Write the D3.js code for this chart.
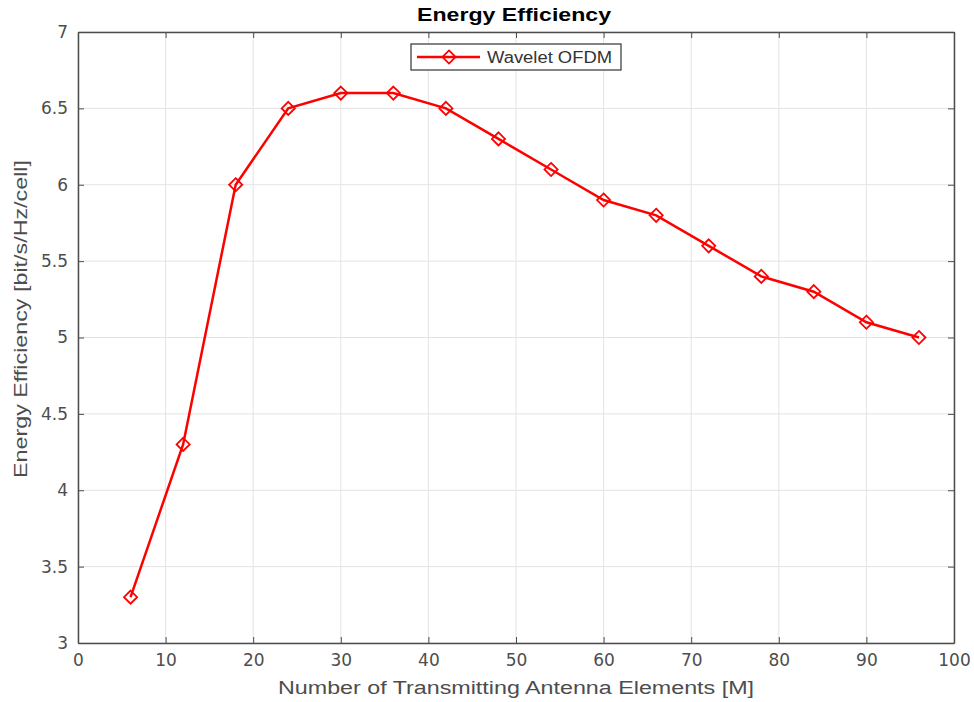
<!DOCTYPE html>
<html>
<head>
<meta charset="utf-8">
<script src="https://cdn.jsdelivr.net/npm/d3@7"></script>
<style>
  body { margin: 0; background: #fff; }
  svg { font-family: "Liberation Sans", Arial, sans-serif; }
  .grid line { stroke: #e3e3e3; stroke-width: 1; }
  .axis text { fill: #4d4d4d; font-size: 17px; font-family: "DejaVu Sans", sans-serif; }
  .axis path, .axis line { stroke: #4d4d4d; }
</style>
</head>
<body>
<div id="chart"></div>
<script>
// data
var antennas = [6, 12, 18, 24, 30, 36, 42, 48, 54, 60, 66, 72, 78, 84, 90, 96];
var efficiency = [3.3, 4.3, 6.0, 6.5, 6.6, 6.6, 6.5, 6.3, 6.1, 5.9, 5.8, 5.6, 5.4, 5.3, 5.1, 5.0];
var xTicks = [0, 10, 20, 30, 40, 50, 60, 70, 80, 90, 100];
var yTicks = [3, 3.5, 4, 4.5, 5, 5.5, 6, 6.5, 7];
var seriesName = "Wavelet OFDM";

var width = 974, height = 702;
var margin = {left: 78, top: 32, right: 20, bottom: 59};
var w = width - margin.left - margin.right;
var h = height - margin.top - margin.bottom;

var svg = d3.select("#chart").append("svg")
    .attr("width", width)
    .attr("height", height);

var g = svg.append("g")
    .attr("transform", "translate(" + margin.left + "," + margin.top + ")");

var x = d3.scaleLinear().domain([0, 100]).range([0, w]);
var y = d3.scaleLinear().domain([3, 7]).range([h, 0]);

// grid
g.append("g").attr("class", "grid")
  .selectAll("line").data(xTicks).enter().append("line")
    .attr("x1", d => x(d)).attr("x2", d => x(d))
    .attr("y1", 0).attr("y2", h);
g.append("g").attr("class", "grid")
  .selectAll("line").data(yTicks).enter().append("line")
    .attr("y1", d => y(d)).attr("y2", d => y(d))
    .attr("x1", 0).attr("x2", w);

// axes (box style, ticks inward)
var fmt = d3.format("~g");
g.append("g").attr("class", "axis")
    .attr("transform", "translate(0," + h + ")")
    .call(d3.axisBottom(x).tickValues(xTicks).tickFormat(fmt).tickSizeInner(-6).tickSizeOuter(0).tickPadding(11));
g.append("g").attr("class", "axis")
    .call(d3.axisLeft(y).tickValues(yTicks).tickFormat(fmt).tickSizeInner(-6).tickSizeOuter(0).tickPadding(10));
g.append("g").attr("class", "axis")
    .call(d3.axisTop(x).tickValues(xTicks).tickFormat("").tickSizeInner(-6).tickSizeOuter(0));
g.append("g").attr("class", "axis")
    .attr("transform", "translate(" + w + ",0)")
    .call(d3.axisRight(y).tickValues(yTicks).tickFormat("").tickSizeInner(-6).tickSizeOuter(0));
g.selectAll(".axis .domain").attr("stroke-width", 1.5);

// line
var line = d3.line().x((d, i) => x(antennas[i])).y(d => y(d));
g.append("path")
    .datum(efficiency)
    .attr("fill", "none")
    .attr("stroke", "#ff0000")
    .attr("stroke-width", 2.5)
    .attr("d", line);

var diamond = d3.symbol().type(d3.symbolDiamond2).size(110);
g.selectAll(".pt").data(efficiency).enter().append("path")
    .attr("class", "pt")
    .attr("transform", (d, i) => "translate(" + x(antennas[i]) + "," + y(d) + ")")
    .attr("d", diamond)
    .attr("fill", "none")
    .attr("stroke", "#ff0000")
    .attr("stroke-width", 1.8);

// title and labels (reference text is stretched wide, so fix the lengths)
svg.append("text")
    .attr("x", margin.left + w / 2 - 2)
    .attr("y", 21)
    .attr("text-anchor", "middle")
    .attr("textLength", 194)
    .attr("lengthAdjust", "spacingAndGlyphs")
    .style("font-weight", "bold")
    .style("font-size", "18px")
    .attr("fill", "#000")
    .text("Energy Efficiency");

svg.append("text")
    .attr("x", 516)
    .attr("y", 694)
    .attr("text-anchor", "middle")
    .attr("textLength", 476)
    .attr("lengthAdjust", "spacingAndGlyphs")
    .style("font-size", "18px")
    .attr("fill", "#4d4d4d")
    .text("Number of Transmitting Antenna Elements [M]");

svg.append("text")
    .attr("transform", "translate(27," + 319 + ") rotate(-90)")
    .attr("text-anchor", "middle")
    .attr("textLength", 318)
    .attr("lengthAdjust", "spacingAndGlyphs")
    .style("font-size", "18px")
    .attr("fill", "#4d4d4d")
    .text("Energy Efficiency [bit/s/Hz/cell]");

// legend
var lg = svg.append("g").attr("transform", "translate(411,44)");
lg.append("rect")
    .attr("width", 210).attr("height", 26)
    .attr("fill", "#fff").attr("stroke", "#333").attr("stroke-width", 1.2);
lg.append("line")
    .attr("x1", 6).attr("x2", 69).attr("y1", 13).attr("y2", 13)
    .attr("stroke", "#ff0000").attr("stroke-width", 2.5);
lg.append("path")
    .attr("transform", "translate(38,13)")
    .attr("d", diamond)
    .attr("fill", "none").attr("stroke", "#ff0000").attr("stroke-width", 1.8);
lg.append("text")
    .attr("x", 76).attr("y", 19)
    .attr("textLength", 125)
    .attr("lengthAdjust", "spacingAndGlyphs")
    .style("font-size", "16px")
    .attr("fill", "#333")
    .text(seriesName);
</script>
</body>
</html>
